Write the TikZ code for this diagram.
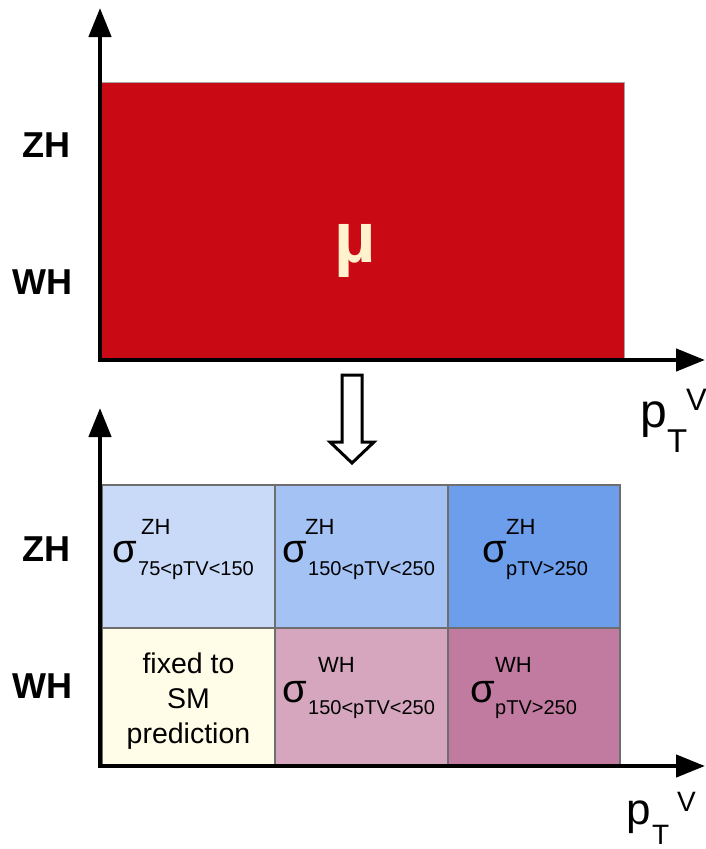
\documentclass[tikz,border=0pt]{standalone}
\usepackage{fontspec}
\setmainfont{Liberation Sans}
\usetikzlibrary{arrows.meta}

\definecolor{murred}{HTML}{C90A14}
\definecolor{mucream}{HTML}{FFF2CC}
\definecolor{zhlow}{HTML}{C9DAF8}
\definecolor{zhmid}{HTML}{A4C2F4}
\definecolor{zhhigh}{HTML}{6D9EEB}
\definecolor{whfixed}{HTML}{FFFDE8}
\definecolor{whmid}{HTML}{D5A6BD}
\definecolor{whhigh}{HTML}{C27BA0}
\definecolor{gridgray}{HTML}{6E6E6E}

\begin{document}
\begin{tikzpicture}[x=1pt,y=-1pt,
  axisline/.style={line width=4.5pt, line join=miter, {Triangle[length=29pt,width=22pt]}-{Triangle[length=29pt,width=22pt]}},
  cellbox/.style={draw=gridgray, line width=1.5pt},
  rowlab/.style={inner sep=0pt, font=\fontsize{36}{43}\selectfont\bfseries},
  txt/.style={inner sep=0pt, anchor=base west},
  sig/.style={txt, font=\fontsize{40}{46}\selectfont},
  sup/.style={txt, font=\fontsize{22}{26}\selectfont},
  idx/.style={txt, font=\fontsize{20}{24}\selectfont},
  pbig/.style={txt, font=\fontsize{48}{56}\selectfont},
  note/.style={inner sep=0pt, align=center, font=\fontsize{28.5}{35}\selectfont}
]
\useasboundingbox (0,0) rectangle (706,849);

% ---------- upper panel: single signal strength ----------
\fill[murred] (102,82) rectangle (624,360);
\draw[gray!70, line width=0.8pt] (102,82) -- (624,82) -- (624,360);
\node[inner sep=0pt, anchor=base, text=mucream,
      font=\fontsize{72}{80}\selectfont\bfseries] (mu) at (355.5,262) {µ};

\coordinate (o1) at (100,360);
\coordinate (y1) at (100,8);
\coordinate (x1) at (705,360);
\draw[axisline] (y1) -- (o1) -- (x1);

\node[rowlab] (zh1) at (46.5,145.5) {ZH};
\node[rowlab] (wh1) at (42.5,282.5) {WH};

\node[pbig] (p1) at (640,427) {p};
\node[txt, font=\fontsize{33}{40}\selectfont] (t1) at (667,452) {T};
\node[txt, font=\fontsize{31}{37}\selectfont] (v1) at (686,410) {V};

% ---------- hollow arrow between the panels ----------
\draw[line width=3pt, line join=miter, fill=white]
  (342,375) -- (362,375) -- (362,442) -- (374,442) -- (352,463)
  -- (330,442) -- (342,442) -- cycle;

% ---------- lower panel: split cross sections ----------
\draw[cellbox, fill=zhlow]   (102,485) rectangle (275,628);
\draw[cellbox, fill=zhmid]   (275,485) rectangle (448,628);
\draw[cellbox, fill=zhhigh]  (448,485) rectangle (620,628);
\draw[cellbox, fill=whfixed] (102,628) rectangle (275,766);
\draw[cellbox, fill=whmid]   (275,628) rectangle (448,766);
\draw[cellbox, fill=whhigh]  (448,628) rectangle (620,766);

\coordinate (o2) at (100,766);
\coordinate (y2) at (100,408);
\coordinate (x2) at (705,766);
\draw[axisline] (y2) -- (o2) -- (x2);

\node[rowlab] (zh2) at (46.5,549) {ZH};
\node[rowlab] (wh2) at (42.5,686) {WH};

% ZH, 75 < pTV < 150
\node[sig] (s11) at (112,562) {σ};
\node[sup] (u11) at (141,534) {ZH};
\node[idx] (d11) at (138,575) {75<pTV<150};
% ZH, 150 < pTV < 250
\node[sig] (s12) at (282,562) {σ};
\node[sup] (u12) at (305,534) {ZH};
\node[idx] (d12) at (308,575) {150<pTV<250};
% ZH, pTV > 250
\node[sig] (s13) at (482,562) {σ};
\node[sup] (u13) at (506,534) {ZH};
\node[idx] (d13) at (506,575) {pTV>250};

% WH, lowest bin fixed
\node[note] (fix) at (188.5,701) {fixed to\\SM\\prediction};
% WH, 150 < pTV < 250
\node[sig] (s22) at (282,702) {σ};
\node[sup] (u22) at (318,672) {WH};
\node[idx] (d22) at (308,714) {150<pTV<250};
% WH, pTV > 250
\node[sig] (s23) at (470,702) {σ};
\node[sup] (u23) at (495,672) {WH};
\node[idx] (d23) at (495,714) {pTV>250};

\node[txt, font=\fontsize{44}{52}\selectfont] (p2) at (626,824) {p};
\node[txt, font=\fontsize{28}{34}\selectfont] (t2) at (652,844) {T};
\node[txt, font=\fontsize{28}{34}\selectfont] (v2) at (677,811) {V};
\end{tikzpicture}
\end{document}
